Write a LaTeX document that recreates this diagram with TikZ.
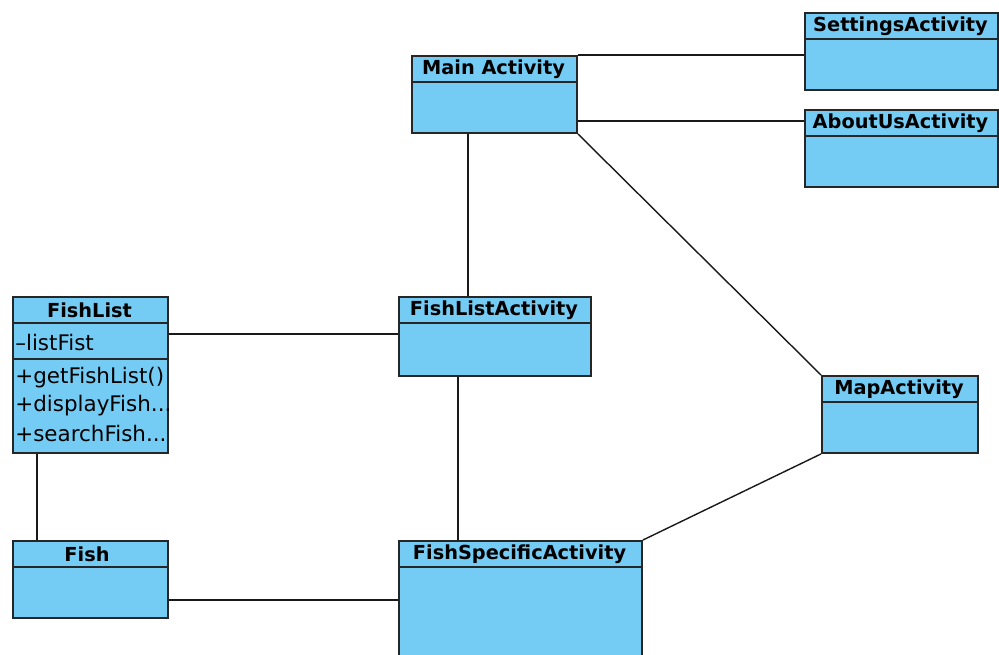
\documentclass[tikz,border=0pt]{standalone}
\usepackage{fontspec}
\setmainfont{DejaVu Sans}
\begin{document}
\begin{tikzpicture}[x=0.02cm,y=-0.02cm,
  box/.style={draw=black!85, line width=1.1pt, fill=clsblue, anchor=north west, inner sep=0pt},
  sep/.style={draw=black!85, line width=1.1pt},
  title/.style={font=\bfseries\fontsize{11}{13}\selectfont, anchor=center, inner sep=0pt},
  member/.style={font=\fontsize{12.2}{14}\selectfont, anchor=west, inner sep=0pt},
  link/.style={draw=black!90, line width=0.8pt}]
\definecolor{clsblue}{HTML}{74CCF4}
\useasboundingbox (0,0) rectangle (999,654);
% class boxes
\node[box, minimum width=165*0.02cm, minimum height=77*0.02cm] (main) at (411,55) {};
\node[box, minimum width=193*0.02cm, minimum height=77*0.02cm] (settings) at (804,12) {};
\node[box, minimum width=193*0.02cm, minimum height=77*0.02cm] (about) at (804,109) {};
\node[box, minimum width=192*0.02cm, minimum height=79*0.02cm] (fla) at (398,296) {};
\node[box, minimum width=156*0.02cm, minimum height=77*0.02cm] (map) at (821,375) {};
\node[box, minimum width=155*0.02cm, minimum height=156*0.02cm] (fishlist) at (12,296) {};
\node[box, minimum width=155*0.02cm, minimum height=77*0.02cm] (fish) at (12,540) {};
\node[box, minimum width=243*0.02cm, minimum height=130*0.02cm] (fsa) at (398,540) {};
% header separators
\draw[sep] (411,82) -- (576,82);
\draw[sep] (804,39) -- (997,39);
\draw[sep] (804,136) -- (997,136);
\draw[sep] (398,323) -- (590,323);
\draw[sep] (821,402) -- (977,402);
\draw[sep] (12,323) -- (167,323);
\draw[sep] (12,359) -- (167,359);
\draw[sep] (12,567) -- (167,567);
\draw[sep] (398,567) -- (641,567);
% titles
\node[title] (tmain) at (493.5,69) {Main Activity};
\node[title] (tsettings) at (900.5,26) {SettingsActivity};
\node[title] (tabout) at (900.5,123) {AboutUsActivity};
\node[title] (tfla) at (494,310.5) {FishListActivity};
\node[title] (tmap) at (899,389) {MapActivity};
\node[title] (tfishlist) at (89.5,310.5) {FishList};
\node[title] (tfish) at (87,554) {Fish};
\node[title] (tfsa) at (519.5,554) {FishSpecificActivity};
% members
\node[member] (m1) at (15,342) {–listFist};
\node[member] (m2) at (15,378) {+getFishList()};
\node[member] (m3) at (15,406) {+displayFish...};
\node[member] (m4) at (15,433) {+searchFish...};
% connectors
\draw[link] (main.north east) -- (main.north east -| settings.west);
\draw[link] (main.east |- about.north) ++(0,12) coordinate (a1) -- (a1 -| about.west);
\draw[link] (main.south west) ++(57,0) coordinate (a2) -- (a2 |- fla.north);
\draw[link] (main.south east) -- (map.north west);
\draw[link] (fishlist.north east) ++(0,38) coordinate (a3) -- (a3 -| fla.west);
\draw[link] (fla.south west) ++(60,0) coordinate (a4) -- (a4 |- fsa.north);
\draw[link] (map.south west) -- (fsa.north east);
\draw[link] (fishlist.south west) ++(25,0) coordinate (a5) -- (a5 |- fish.north);
\draw[link] (fish.north east) ++(0,60) coordinate (a6) -- (a6 -| fsa.west);
\end{tikzpicture}
\end{document}
